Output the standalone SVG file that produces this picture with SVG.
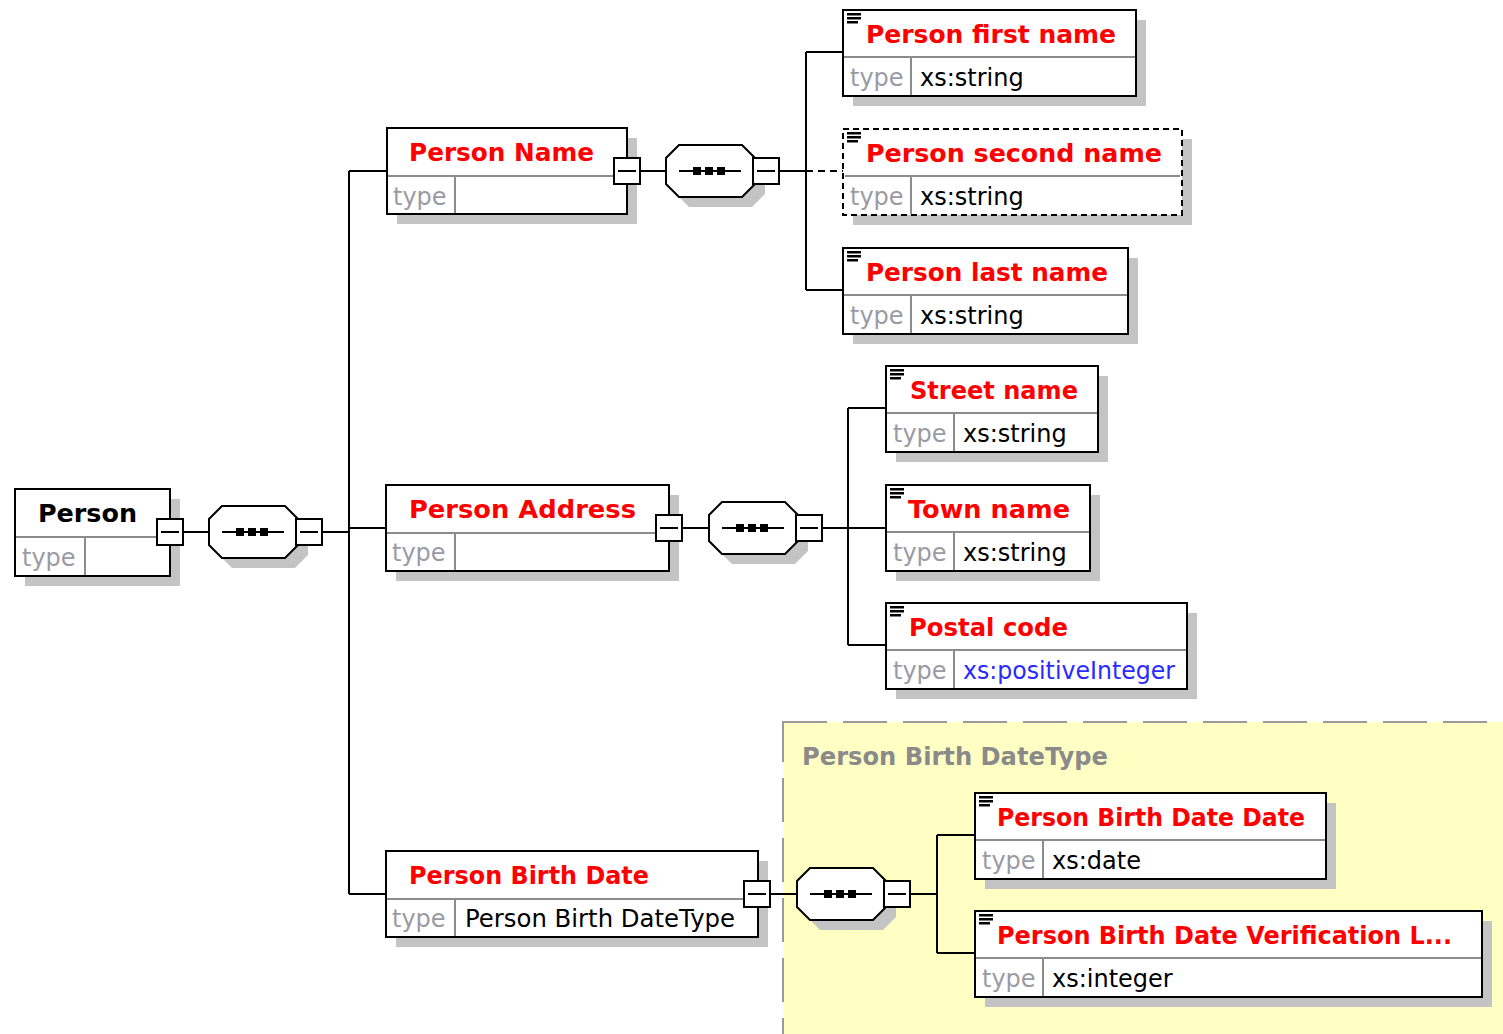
<svg xmlns="http://www.w3.org/2000/svg" width="1503" height="1034" viewBox="0 0 1503 1034">
<style>
.bg{fill:#ffffff}
.box{fill:#ffffff;stroke:#000;stroke-width:2}
.dbox{fill:#ffffff;stroke:#000;stroke-width:2;stroke-dasharray:6 4}
.sh{fill:#c4c4c4}
.sep{stroke:#8c8c8c;stroke-width:2;fill:none}
.wire{stroke:#000;stroke-width:2;fill:none}
.dwire{stroke:#000;stroke-width:2;fill:none;stroke-dasharray:7 5}
.hd{font-family:"DejaVu Sans","Liberation Sans",sans-serif;font-weight:bold;font-size:24px;fill:#ff0000}
.hdk{font-family:"DejaVu Sans","Liberation Sans",sans-serif;font-weight:bold;font-size:24px;fill:#000}
.tl{font-family:"DejaVu Sans","Liberation Sans",sans-serif;font-size:24px;fill:#9a9aa4}
.tv{font-family:"DejaVu Sans","Liberation Sans",sans-serif;font-size:24px;fill:#000}
.tb{font-family:"DejaVu Sans","Liberation Sans",sans-serif;font-size:24px;fill:#2a2aff}
.lbl{font-family:"DejaVu Sans","Liberation Sans",sans-serif;font-weight:bold;font-size:24px;fill:#8a8a8a}
.oct{fill:#ffffff;stroke:#000;stroke-width:2}
.btn{fill:#ffffff;stroke:#000;stroke-width:2}
.ico{fill:#000}
.region{fill:#ffffc4;stroke:#9a9a9a;stroke-width:2;stroke-dasharray:44 16}
</style>
<defs>
<path id="octp" d="M13,0 H76 L89,13 V39 L76,52 H13 L0,39 V13 Z"/>
<g id="seq">
<use href="#octp" transform="translate(10,10)" class="sh"/>
<use href="#octp" class="oct"/>
<line x1="13" y1="26" x2="75" y2="26" stroke="#000" stroke-width="2"/>
<rect x="27" y="22" width="8" height="8" fill="#000"/>
<rect x="39" y="22" width="8" height="8" fill="#000"/>
<rect x="51" y="22" width="8" height="8" fill="#000"/>
<rect x="87" y="13" width="26" height="26" class="btn"/>
<line x1="91" y1="26" x2="109" y2="26" stroke="#000" stroke-width="2"/>
</g>
<g id="minus">
<rect x="-13" y="-13" width="26" height="26" class="btn"/>
<line x1="-9" y1="0" x2="9" y2="0" stroke="#000" stroke-width="2"/>
</g>
<g id="icon">
<rect x="4" y="3" width="14" height="2.5" class="ico"/>
<rect x="4" y="7" width="14" height="2.5" class="ico"/>
<rect x="4" y="11" width="11" height="2.5" class="ico"/>
</g>
</defs>
<rect class="bg" x="0" y="0" width="1503" height="1034"/>

<g id="birthdatetype-region">
<rect class="region" x="783" y="722" width="760" height="340"/>
<text class="lbl" x="802" y="765" textLength="306" lengthAdjust="spacingAndGlyphs">Person Birth DateType</text>
</g>

<g id="connectors">
<path class="wire" d="M182,532 H209"/>
<path class="wire" d="M322,532 H349"/>
<path class="wire" d="M349,171 V894"/>
<path class="wire" d="M349,171 H387"/>
<path class="wire" d="M349,528 H386"/>
<path class="wire" d="M349,894 H386"/>
<path class="wire" d="M640,171 H666"/>
<path class="wire" d="M778,171 H806"/>
<path class="wire" d="M806,52 V290"/>
<path class="wire" d="M806,52 H843"/>
<path class="dwire" d="M806,171 H843"/>
<path class="wire" d="M806,290 H843"/>
<path class="wire" d="M682,528 H709"/>
<path class="wire" d="M822,528 H848"/>
<path class="wire" d="M848,408 V645"/>
<path class="wire" d="M848,408 H886"/>
<path class="wire" d="M848,528 H886"/>
<path class="wire" d="M848,645 H886"/>
<path class="wire" d="M770,894 H797"/>
<path class="wire" d="M910,894 H937"/>
<path class="wire" d="M937,835 V953"/>
<path class="wire" d="M937,835 H975"/>
<path class="wire" d="M937,953 H975"/>
</g>

<g id="seq-person">
<use href="#seq" transform="translate(209,506)"/>
</g>
<g id="seq-name">
<use href="#seq" transform="translate(666,145)"/>
</g>
<g id="seq-address">
<use href="#seq" transform="translate(709,502)"/>
</g>
<g id="seq-birthdate">
<use href="#seq" transform="translate(797,868)"/>
</g>

<g id="person">
<rect class="sh" x="25" y="499" width="155" height="87"/>
<rect class="box" x="15" y="489" width="155" height="87"/>
<line class="sep" x1="16" y1="537" x2="169" y2="537"/>
<line class="sep" x1="85" y1="537" x2="85" y2="575"/>
<text class="hdk" x="38" y="522" textLength="99" lengthAdjust="spacingAndGlyphs">Person</text>
<text class="tl" x="22" y="566">type</text>
<use href="#minus" transform="translate(170,532)"/>
</g>

<g id="person-name">
<rect class="sh" x="397" y="138" width="240" height="86"/>
<rect class="box" x="387" y="128" width="240" height="86"/>
<line class="sep" x1="388" y1="176" x2="626" y2="176"/>
<line class="sep" x1="455" y1="176" x2="455" y2="213"/>
<text class="hd" x="409" y="161" textLength="185" lengthAdjust="spacingAndGlyphs">Person Name</text>
<text class="tl" x="393" y="205">type</text>
<use href="#minus" transform="translate(627,171)"/>
</g>

<g id="person-first-name">
<rect class="sh" x="853" y="20" width="293" height="86"/>
<rect class="box" x="843" y="10" width="293" height="86"/>
<line class="sep" x1="844" y1="57" x2="1135" y2="57"/>
<line class="sep" x1="911" y1="57" x2="911" y2="95"/>
<use href="#icon" transform="translate(843,10)"/>
<text class="hd" x="866" y="43" textLength="250" lengthAdjust="spacingAndGlyphs">Person first name</text>
<text class="tl" x="850" y="86">type</text>
<text class="tv" x="920" y="86">xs:string</text>
</g>

<g id="person-second-name">
<rect class="sh" x="853" y="139" width="339" height="86"/>
<rect class="dbox" x="843" y="129" width="339" height="86"/>
<line class="sep" x1="845" y1="176" x2="1180" y2="176"/>
<line class="sep" x1="911" y1="176" x2="911" y2="214"/>
<use href="#icon" transform="translate(843,129)"/>
<text class="hd" x="866" y="162" textLength="296" lengthAdjust="spacingAndGlyphs">Person second name</text>
<text class="tl" x="850" y="205">type</text>
<text class="tv" x="920" y="205">xs:string</text>
</g>

<g id="person-last-name">
<rect class="sh" x="853" y="258" width="285" height="86"/>
<rect class="box" x="843" y="248" width="285" height="86"/>
<line class="sep" x1="844" y1="295" x2="1127" y2="295"/>
<line class="sep" x1="911" y1="295" x2="911" y2="333"/>
<use href="#icon" transform="translate(843,248)"/>
<text class="hd" x="866" y="281" textLength="242" lengthAdjust="spacingAndGlyphs">Person last name</text>
<text class="tl" x="850" y="324">type</text>
<text class="tv" x="920" y="324">xs:string</text>
</g>

<g id="person-address">
<rect class="sh" x="396" y="495" width="283" height="86"/>
<rect class="box" x="386" y="485" width="283" height="86"/>
<line class="sep" x1="387" y1="533" x2="668" y2="533"/>
<line class="sep" x1="455" y1="533" x2="455" y2="570"/>
<text class="hd" x="409" y="518" textLength="227" lengthAdjust="spacingAndGlyphs">Person Address</text>
<text class="tl" x="392" y="561">type</text>
<use href="#minus" transform="translate(669,528)"/>
</g>

<g id="street-name">
<rect class="sh" x="896" y="376" width="212" height="86"/>
<rect class="box" x="886" y="366" width="212" height="86"/>
<line class="sep" x1="887" y1="413" x2="1097" y2="413"/>
<line class="sep" x1="954" y1="413" x2="954" y2="451"/>
<use href="#icon" transform="translate(886,366)"/>
<text class="hd" x="910" y="399" textLength="168" lengthAdjust="spacingAndGlyphs">Street name</text>
<text class="tl" x="893" y="442">type</text>
<text class="tv" x="963" y="442">xs:string</text>
</g>

<g id="town-name">
<rect class="sh" x="896" y="495" width="204" height="86"/>
<rect class="box" x="886" y="485" width="204" height="86"/>
<line class="sep" x1="887" y1="532" x2="1089" y2="532"/>
<line class="sep" x1="954" y1="532" x2="954" y2="570"/>
<use href="#icon" transform="translate(886,485)"/>
<text class="hd" x="908" y="518" textLength="162" lengthAdjust="spacingAndGlyphs">Town name</text>
<text class="tl" x="893" y="561">type</text>
<text class="tv" x="963" y="561">xs:string</text>
</g>

<g id="postal-code">
<rect class="sh" x="896" y="613" width="301" height="86"/>
<rect class="box" x="886" y="603" width="301" height="86"/>
<line class="sep" x1="887" y1="650" x2="1186" y2="650"/>
<line class="sep" x1="954" y1="650" x2="954" y2="688"/>
<use href="#icon" transform="translate(886,603)"/>
<text class="hd" x="909" y="636" textLength="159" lengthAdjust="spacingAndGlyphs">Postal code</text>
<text class="tl" x="893" y="679">type</text>
<text class="tb" x="963" y="679" textLength="212" lengthAdjust="spacingAndGlyphs">xs:positiveInteger</text>
</g>

<g id="person-birth-date">
<rect class="sh" x="396" y="861" width="372" height="86"/>
<rect class="box" x="386" y="851" width="372" height="86"/>
<line class="sep" x1="387" y1="899" x2="757" y2="899"/>
<line class="sep" x1="455" y1="899" x2="455" y2="936"/>
<text class="hd" x="409" y="884" textLength="240" lengthAdjust="spacingAndGlyphs">Person Birth Date</text>
<text class="tl" x="392" y="927">type</text>
<text class="tv" x="465" y="927" textLength="270" lengthAdjust="spacingAndGlyphs">Person Birth DateType</text>
<use href="#minus" transform="translate(757,894)"/>
</g>

<g id="person-birth-date-date">
<rect class="sh" x="985" y="803" width="351" height="86"/>
<rect class="box" x="975" y="793" width="351" height="86"/>
<line class="sep" x1="976" y1="840" x2="1325" y2="840"/>
<line class="sep" x1="1043" y1="840" x2="1043" y2="878"/>
<use href="#icon" transform="translate(975,793)"/>
<text class="hd" x="997" y="826" textLength="308" lengthAdjust="spacingAndGlyphs">Person Birth Date Date</text>
<text class="tl" x="982" y="869">type</text>
<text class="tv" x="1052" y="869">xs:date</text>
</g>

<g id="person-birth-date-verification">
<rect class="sh" x="985" y="921" width="507" height="86"/>
<rect class="box" x="975" y="911" width="507" height="86"/>
<line class="sep" x1="976" y1="958" x2="1481" y2="958"/>
<line class="sep" x1="1043" y1="958" x2="1043" y2="996"/>
<use href="#icon" transform="translate(975,911)"/>
<text class="hd" x="997" y="944" textLength="455" lengthAdjust="spacingAndGlyphs">Person Birth Date Verification L...</text>
<text class="tl" x="982" y="987">type</text>
<text class="tv" x="1052" y="987">xs:integer</text>
</g>
</svg>
